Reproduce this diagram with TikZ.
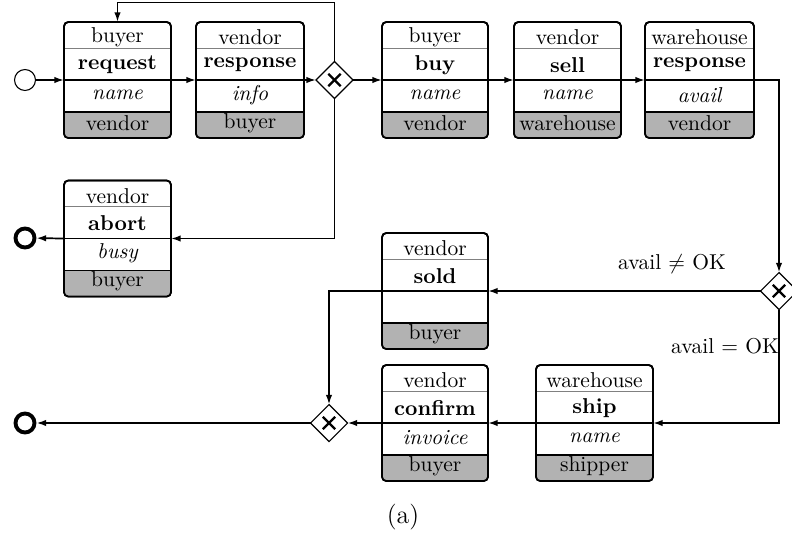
\documentclass[tikz,border=0pt]{standalone}
\usetikzlibrary{shapes.geometric,arrows.meta,calc}

% one unit = one pixel of the layout grid, y grows downwards
\tikzset{
  taskbox/.style={draw, line width=0.8pt, rounded corners=2pt, fill=white,
    inner sep=0pt, outer sep=0pt, minimum height=116*0.465pt},
  sepline/.style={draw=gray, line width=0.4pt},
  midline/.style={draw=black, line width=0.6pt},
  partline/.style={draw=black, line width=0.6pt},
  boxline/.style={draw=black, line width=0.8pt},
  gateway/.style={diamond, draw, line width=0.5pt, fill=white, inner sep=0pt,
    outer sep=0pt, minimum width=37*0.465pt, minimum height=37*0.465pt,
    path picture={
      \draw[line width=1pt]
        ([shift={(-2.9pt,-2.9pt)}]path picture bounding box.center) --
        ([shift={(2.9pt,2.9pt)}]path picture bounding box.center);
      \draw[line width=1pt]
        ([shift={(-2.9pt,2.9pt)}]path picture bounding box.center) --
        ([shift={(2.9pt,-2.9pt)}]path picture bounding box.center);}},
  startevent/.style={circle, draw, line width=0.5pt, fill=white,
    minimum size=21*0.465pt, inner sep=0pt, outer sep=0pt},
  endevent/.style={circle, draw, line width=1.8pt, fill=white,
    minimum size=19*0.465pt, inner sep=0pt, outer sep=0.9pt},
  flow/.style={line width=0.8pt, -{Latex[length=4.5pt,width=3pt]}},
  guard/.style={inner sep=0pt},
}

% #1 name, #2 x, #3 y, #4 width, #5 role, #6 message, #7 field, #8 partner
\newcommand\bpmnTask[8]{%
  \node[taskbox, minimum width=#4*0.465pt] (#1) at (#2,#3) {};
  \begin{scope}
    \clip[rounded corners=2pt] (#1.south west) rectangle (#1.north east);
    \fill[gray!60] (#1.south west) rectangle ($(#1.south east)+(0,-26)$);
  \end{scope}
  \draw[sepline] ($(#1.north west)+(0,26)$) -- ($(#1.north east)+(0,26)$);
  \draw[midline] (#1.west) -- (#1.east);
  \draw[partline] ($(#1.south west)+(0,-26)$) -- ($(#1.south east)+(0,-26)$);
  \draw[boxline, rounded corners=2pt] (#1.south west) rectangle (#1.north east);
  \node[inner sep=0pt] (#1-role) at ($(#1.north)+(0,15.5)$) {#5};
  \node[inner sep=0pt, font=\bfseries] (#1-msg) at ($(#1.north)+(0,43)$) {#6};
  \node[inner sep=0pt, font=\itshape] (#1-field) at ($(#1.north)+(0,73)$) {#7};
  \node[inner sep=0pt] (#1-partner) at ($(#1.south)+(0,-15)$) {#8};
}

\begin{document}
\begin{tikzpicture}[x=0.465pt, y=-0.465pt]
\useasboundingbox (0,0) rectangle (792,537);

% events
\node[startevent] (start) at (25,80) {};
\node[endevent] (endA) at (25,238) {};
\node[endevent] (endB) at (25,423) {};

% tasks
\bpmnTask{request}{117.5}{80}{107}{buyer}{request}{name}{vendor}
\bpmnTask{response}{250}{80}{108}{vendor}{response}{info}{buyer}
\bpmnTask{buy}{435}{80}{106}{buyer}{buy}{name}{vendor}
\bpmnTask{sell}{567.5}{80}{107}{vendor}{sell}{name}{warehouse}
\bpmnTask{wresponse}{699.5}{80}{109}{warehouse}{response}{avail}{vendor}
\bpmnTask{abort}{117.5}{238.5}{107}{vendor}{abort}{busy}{buyer}
\bpmnTask{sold}{435}{291}{106}{vendor}{sold}{}{buyer}
\bpmnTask{confirm}{435}{423}{106}{vendor}{confirm}{invoice}{buyer}
\bpmnTask{ship}{594.5}{423}{117}{warehouse}{ship}{name}{shipper}

% gateways
\node[gateway] (gw1) at (334.5,80) {};
\node[gateway] (gw2) at (779,291) {};
\node[gateway] (gw3) at (329,423) {};

% sequence flows
\draw[flow] (start) -- (request.west);
\draw[flow] (request.east) -- (response.west);
\draw[flow] (response.east) -- (gw1.west);
\draw[flow] (gw1.east) -- (buy.west);
\draw[flow] (buy.east) -- (sell.west);
\draw[flow] (sell.east) -- (wresponse.west);
\draw[flow] (gw1.north) -- ++(0,-59) -| (request.north);
\draw[flow] (gw1.south) |- (abort.east);
\draw[flow] (abort.west) -- (endA);
\draw[flow] (wresponse.east) -| (gw2.north);
\draw[flow] (gw2.west) -- (sold.east);
\draw[flow] (gw2.south) |- (ship.east);
\draw[flow] (ship.west) -- (confirm.east);
\draw[flow] (confirm.west) -- (gw3.east);
\draw[flow] (sold.west) -| (gw3.north);
\draw[flow] (gw3.west) -- (endB);

% guards
\node[guard] (notok) at (672,264) {avail $\neq$ OK};
\node[guard] (isok) at (725,346) {avail $=$ OK};

% caption
\node[font=\large] (caption) at (403,517) {(a)};
\end{tikzpicture}
\end{document}
